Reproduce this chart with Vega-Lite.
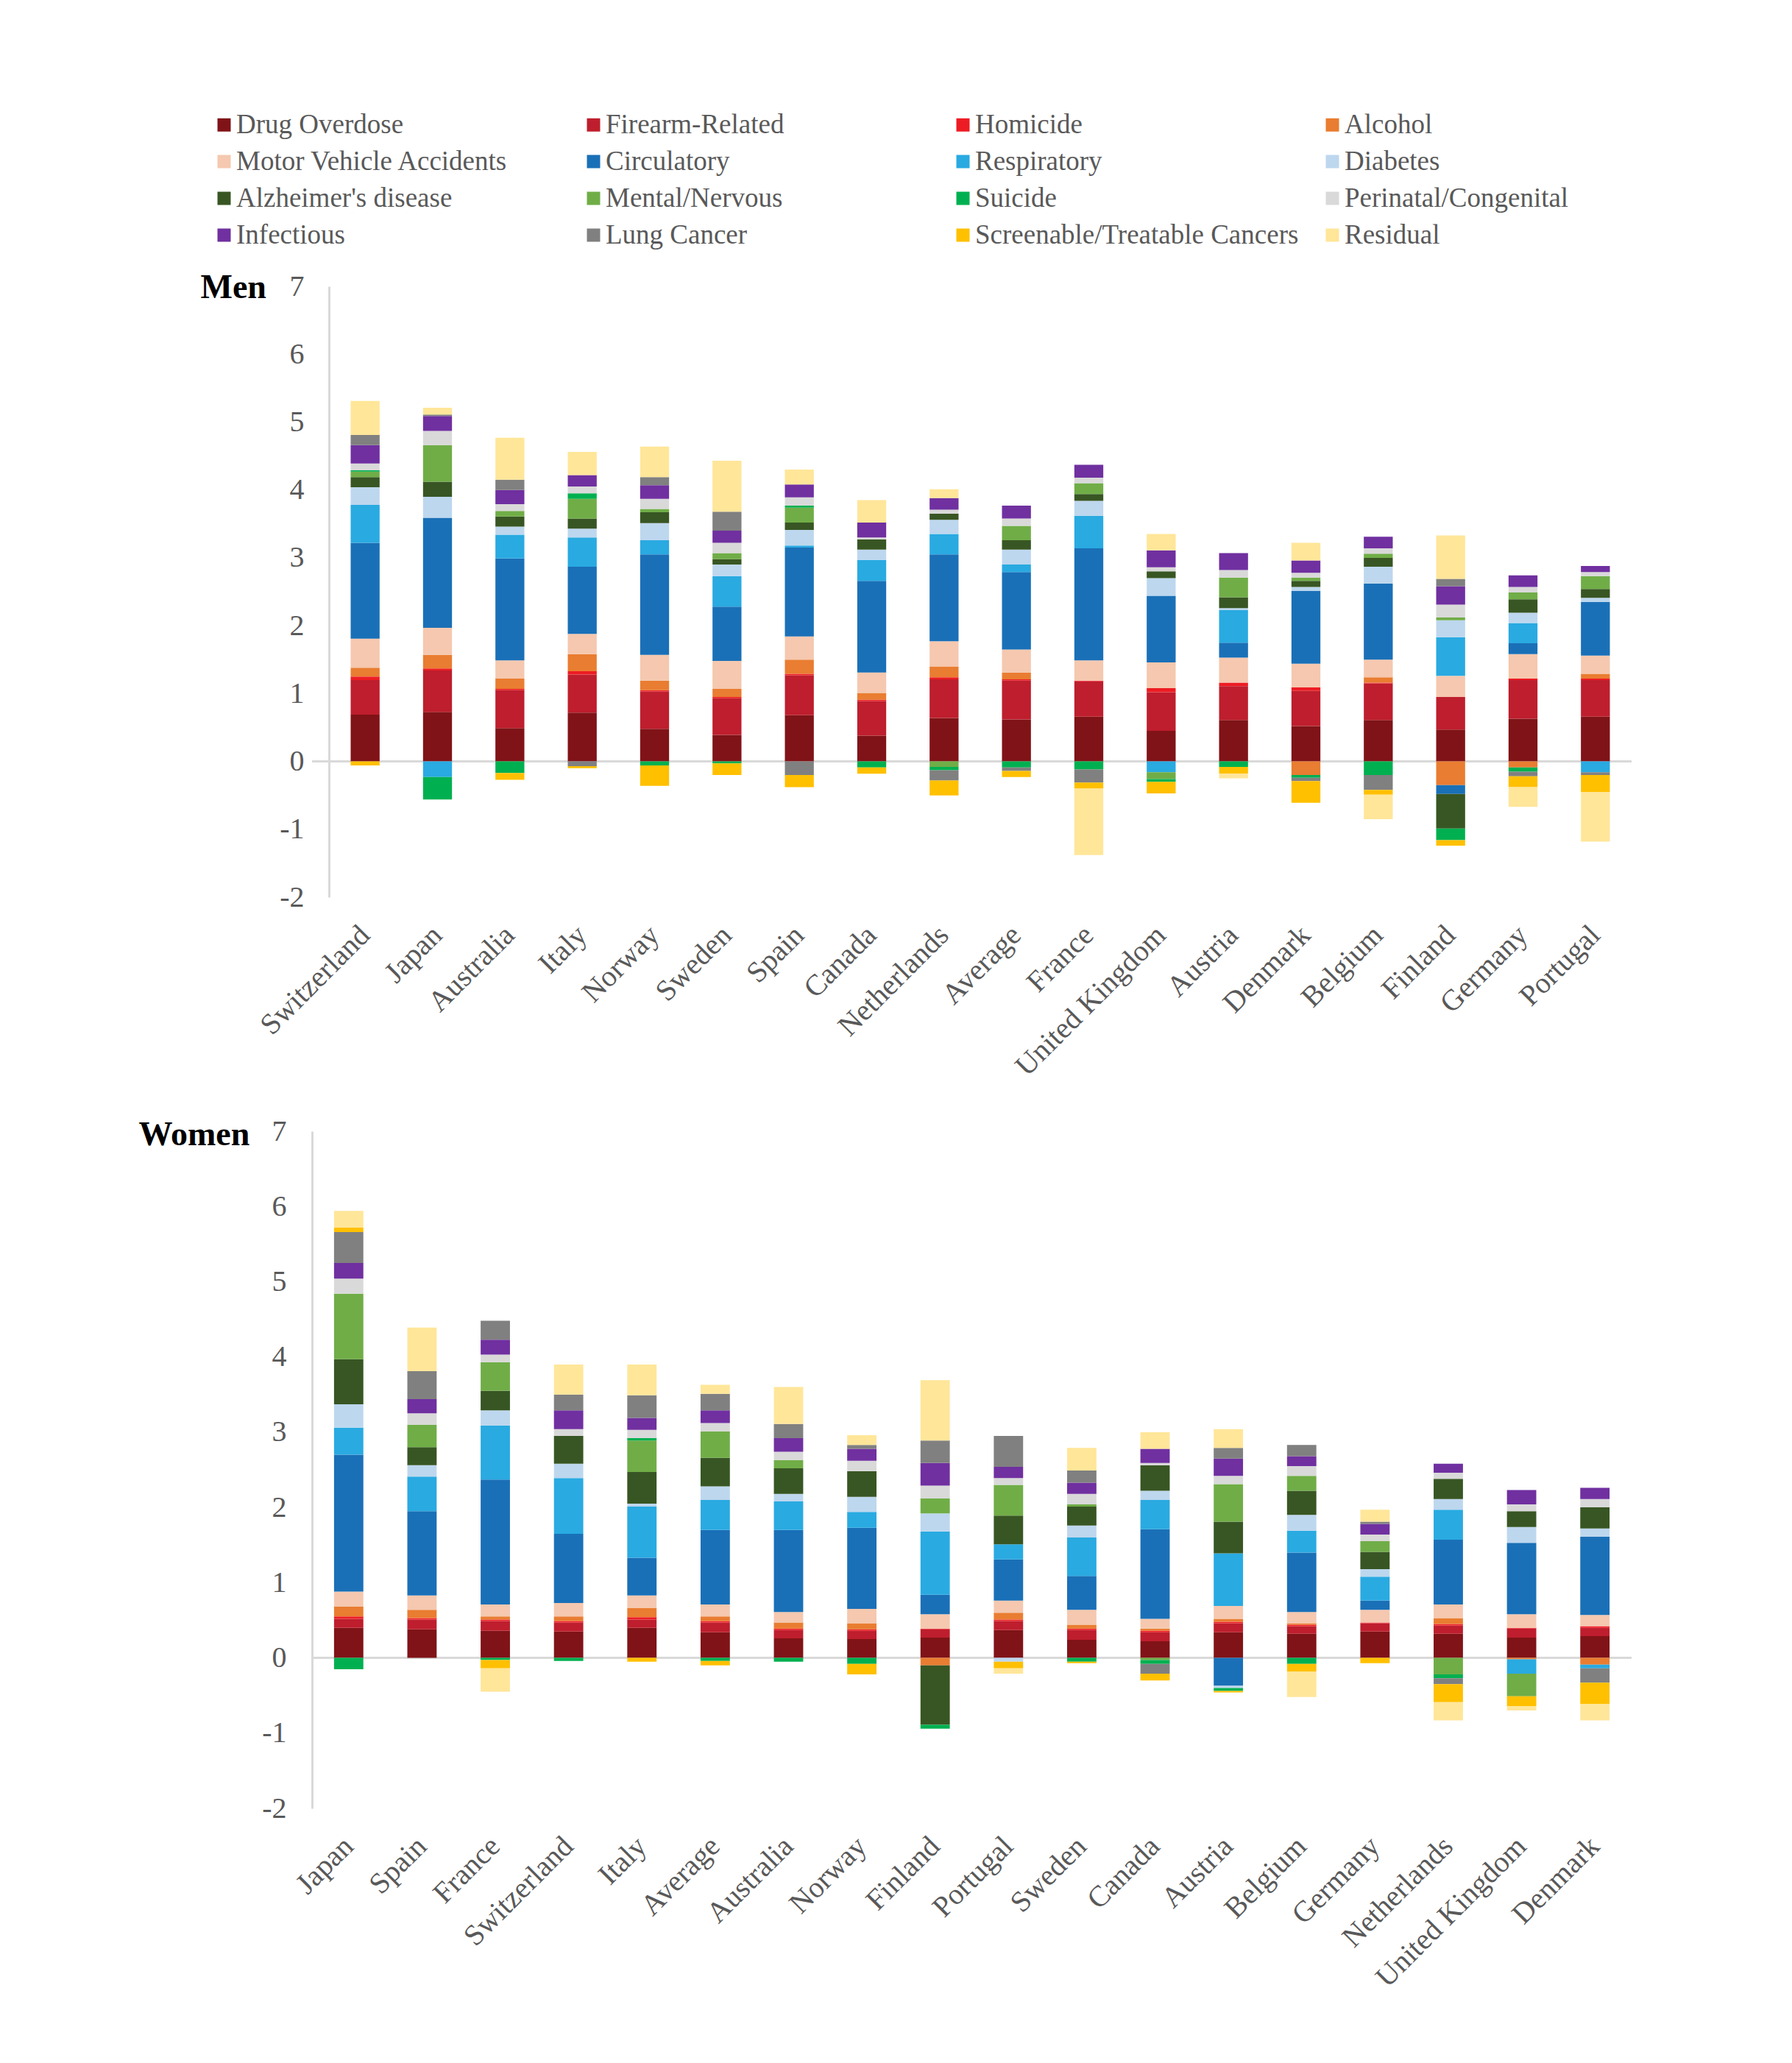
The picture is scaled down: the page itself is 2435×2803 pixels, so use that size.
{
"$schema": "https://vega.github.io/schema/vega-lite/v6.json",
"background": "white",
"padding": {"left": 188, "top": 151, "right": 10, "bottom": 10},
"spacing": 47,
"config": {
 "view": {"stroke": null},
 "font": "Liberation Serif",
 "axis": {"grid": false, "ticks": false, "tickSize": 0, "labelFont": "Liberation Serif", "labelFontSize": 40, "labelColor": "#595959", "titleFont": "Liberation Serif"},
 "legend": {"orient": "none", "legendX": -138, "legendY": -238, "direction": "horizontal", "columns": 4, "gridAlign": "all", "columnPadding": 27, "rowPadding": 12, "symbolType": "square", "symbolSize": 324, "symbolStrokeWidth": 0, "labelFont": "Liberation Serif", "labelFontSize": 37, "labelColor": "#595959", "labelOffset": -2, "labelLimit": 700, "padding": 0, "title": null}
},
"datasets": {
 "causes": [
  {"k":"D","o":1,"cause":"Drug Overdose"},{"k":"F","o":2,"cause":"Firearm-Related"},{"k":"H","o":3,"cause":"Homicide"},{"k":"A","o":4,"cause":"Alcohol"},
  {"k":"M","o":5,"cause":"Motor Vehicle Accidents"},{"k":"C","o":6,"cause":"Circulatory"},{"k":"R","o":7,"cause":"Respiratory"},{"k":"Db","o":8,"cause":"Diabetes"},
  {"k":"Az","o":9,"cause":"Alzheimer's disease"},{"k":"Mn","o":10,"cause":"Mental/Nervous"},{"k":"S","o":11,"cause":"Suicide"},{"k":"P","o":12,"cause":"Perinatal/Congenital"},
  {"k":"I","o":13,"cause":"Infectious"},{"k":"L","o":14,"cause":"Lung Cancer"},{"k":"Sc","o":15,"cause":"Screenable/Treatable Cancers"},{"k":"Re","o":16,"cause":"Residual"}
 ],
 "men": [
  {"c":"Switzerland","D":0.69,"F":0.51,"H":0.05,"A":0.13,"M":0.43,"C":1.41,"R":0.56,"Db":0.26,"Az":0.15,"Mn":0.08,"S":0.02,"P":0.10,"I":0.27,"L":0.15,"Sc":-0.06,"Re":0.50},
  {"c":"Japan","D":0.73,"F":0.61,"H":0.03,"A":0.20,"M":0.40,"C":1.62,"R":-0.23,"Db":0.31,"Az":0.22,"Mn":0.54,"S":-0.33,"P":0.21,"I":0.22,"L":0.02,"Re":0.10},
  {"c":"Australia","D":0.49,"F":0.56,"H":0.02,"A":0.15,"M":0.27,"C":1.50,"R":0.35,"Db":0.12,"Az":0.15,"Mn":0.08,"S":-0.17,"P":0.10,"I":0.21,"L":0.15,"Sc":-0.10,"Re":0.62},
  {"c":"Italy","D":0.72,"F":0.56,"H":0.05,"A":0.25,"M":0.30,"C":0.99,"R":0.43,"Db":0.13,"Az":0.15,"Mn":0.29,"S":0.08,"P":0.10,"I":0.17,"L":-0.07,"Sc":-0.03,"Re":0.34},
  {"c":"Norway","D":0.48,"F":0.55,"H":0.02,"A":0.14,"M":0.38,"C":1.48,"R":0.21,"Db":0.25,"Az":0.16,"Mn":0.05,"S":-0.06,"P":0.15,"I":0.20,"L":0.12,"Sc":-0.30,"Re":0.45},
  {"c":"Sweden","D":0.39,"F":0.54,"H":0.02,"A":0.12,"M":0.41,"C":0.80,"R":0.45,"Db":0.17,"Az":0.08,"Mn":0.09,"S":-0.03,"P":0.15,"I":0.18,"L":0.28,"Sc":-0.17,"Re":0.75},
  {"c":"Spain","D":0.68,"F":0.59,"H":0.02,"A":0.21,"M":0.34,"C":1.31,"R":0.03,"Db":0.23,"Az":0.11,"Mn":0.22,"S":0.03,"P":0.12,"I":0.19,"L":-0.20,"Sc":-0.18,"Re":0.22},
  {"c":"Canada","D":0.38,"F":0.51,"H":0.02,"A":0.10,"M":0.30,"C":1.35,"R":0.31,"Db":0.15,"Az":0.15,"S":-0.09,"P":0.03,"I":0.22,"Sc":-0.09,"Re":0.33},
  {"c":"Netherlands","D":0.64,"F":0.57,"H":0.03,"A":0.16,"M":0.37,"C":1.28,"R":0.30,"Db":0.21,"Az":0.09,"Mn":-0.08,"S":-0.05,"P":0.06,"I":0.17,"L":-0.15,"Sc":-0.22,"Re":0.13},
  {"c":"Average","D":0.62,"F":0.57,"H":0.02,"A":0.10,"M":0.34,"C":1.14,"R":0.11,"Db":0.22,"Az":0.14,"Mn":0.21,"S":-0.09,"P":0.11,"I":0.19,"L":-0.05,"Sc":-0.09},
  {"c":"France","D":0.66,"F":0.52,"H":0.01,"M":0.30,"C":1.65,"R":0.48,"Db":0.22,"Az":0.10,"Mn":0.16,"S":-0.12,"P":0.08,"I":0.19,"L":-0.19,"Sc":-0.09,"Re":-0.98},
  {"c":"United Kingdom","D":0.45,"F":0.57,"H":0.06,"M":0.38,"C":0.98,"R":-0.16,"Db":0.26,"Az":0.10,"Mn":-0.10,"S":-0.04,"P":0.06,"I":0.25,"Sc":-0.17,"Re":0.24},
  {"c":"Austria","D":0.61,"F":0.50,"H":0.05,"M":0.37,"C":0.22,"R":0.48,"Db":0.03,"Az":0.16,"Mn":0.29,"S":-0.08,"P":0.11,"I":0.25,"Sc":-0.10,"Re":-0.07},
  {"c":"Denmark","D":0.52,"F":0.52,"H":0.05,"A":-0.20,"M":0.35,"C":1.07,"Db":0.06,"Az":0.09,"Mn":0.05,"S":-0.04,"P":0.07,"I":0.18,"L":-0.05,"Sc":-0.32,"Re":0.26},
  {"c":"Belgium","D":0.61,"F":0.54,"H":0.01,"A":0.08,"M":0.26,"C":1.12,"Db":0.25,"Az":0.13,"Mn":0.06,"S":-0.20,"P":0.08,"I":0.17,"L":-0.22,"Sc":-0.07,"Re":-0.36},
  {"c":"Finland","D":0.47,"F":0.48,"A":-0.35,"M":0.31,"C":-0.13,"R":0.57,"Db":0.25,"Az":-0.51,"Mn":0.04,"S":-0.17,"P":0.19,"I":0.27,"L":0.11,"Sc":-0.08,"Re":0.64},
  {"c":"Germany","D":0.63,"F":0.57,"H":0.02,"A":-0.09,"M":0.36,"C":0.16,"R":0.30,"Db":0.15,"Az":0.20,"Mn":0.10,"S":-0.06,"P":0.08,"I":0.17,"L":-0.07,"Sc":-0.16,"Re":-0.29},
  {"c":"Portugal","D":0.66,"F":0.54,"H":0.02,"A":0.07,"M":0.27,"C":0.79,"R":-0.16,"Db":0.06,"Az":0.13,"Mn":0.19,"P":0.06,"I":0.09,"L":-0.04,"Sc":-0.25,"Re":-0.73}
 ],
 "women": [
  {"c":"Japan","D":0.40,"F":0.12,"H":0.03,"A":0.13,"M":0.20,"C":1.82,"R":0.36,"Db":0.31,"Az":0.60,"Mn":0.87,"S":-0.15,"P":0.20,"I":0.21,"L":0.41,"Sc":0.06,"Re":0.22},
  {"c":"Spain","D":0.38,"F":0.13,"H":0.02,"A":0.11,"M":0.19,"C":1.12,"R":0.46,"Db":0.15,"Az":0.24,"Mn":0.30,"P":0.15,"I":0.19,"L":0.37,"Re":0.58},
  {"c":"France","D":0.36,"F":0.13,"H":0.02,"A":0.04,"M":0.16,"C":1.66,"R":0.72,"Db":0.20,"Az":0.26,"Mn":0.38,"S":-0.03,"P":0.10,"I":0.20,"L":0.25,"Sc":-0.11,"Re":-0.31},
  {"c":"Switzerland","D":0.35,"F":0.12,"H":0.02,"A":0.06,"M":0.18,"C":0.92,"R":0.74,"Db":0.19,"Az":0.37,"S":-0.04,"P":0.09,"I":0.25,"L":0.21,"Re":0.40},
  {"c":"Italy","D":0.40,"F":0.11,"H":0.03,"A":0.12,"M":0.17,"C":0.50,"R":0.68,"Db":0.04,"Az":0.42,"Mn":0.42,"S":0.03,"P":0.11,"I":0.16,"L":0.30,"Sc":-0.05,"Re":0.41},
  {"c":"Average","D":0.34,"F":0.13,"H":0.02,"A":0.06,"M":0.16,"C":0.99,"R":0.40,"Db":0.18,"Az":0.38,"Mn":0.35,"S":-0.04,"P":0.11,"I":0.17,"L":0.22,"Sc":-0.06,"Re":0.12},
  {"c":"Australia","D":0.26,"F":0.11,"H":0.02,"A":0.08,"M":0.14,"C":1.09,"R":0.38,"Db":0.10,"Az":0.34,"Mn":0.11,"S":-0.05,"P":0.11,"I":0.18,"L":0.19,"Re":0.49},
  {"c":"Norway","D":0.25,"F":0.11,"H":0.02,"A":0.08,"M":0.19,"C":1.08,"R":0.21,"Db":0.20,"Az":0.34,"S":-0.08,"P":0.14,"I":0.16,"L":0.05,"Sc":-0.14,"Re":0.13},
  {"c":"Finland","D":0.27,"F":0.11,"H":0.01,"A":-0.10,"M":0.19,"C":0.26,"R":0.84,"Db":0.24,"Az":-0.79,"Mn":0.20,"S":-0.05,"P":0.17,"I":0.30,"L":0.30,"Re":0.80},
  {"c":"Portugal","D":0.37,"F":0.12,"H":0.02,"A":0.09,"M":0.16,"C":0.55,"R":0.20,"Db":-0.05,"Az":0.38,"Mn":0.41,"P":0.09,"I":0.15,"L":0.41,"Sc":-0.09,"Re":-0.07},
  {"c":"Sweden","D":0.24,"F":0.13,"H":0.02,"A":0.05,"M":0.20,"C":0.45,"R":0.51,"Db":0.16,"Az":0.25,"Mn":0.03,"S":-0.05,"P":0.14,"I":0.15,"L":0.16,"Sc":-0.02,"Re":0.30},
  {"c":"Canada","D":0.22,"F":0.12,"H":0.02,"A":0.03,"M":0.13,"C":1.19,"R":0.39,"Db":0.12,"Az":0.34,"Mn":-0.03,"S":-0.05,"P":0.03,"I":0.19,"L":-0.13,"Sc":-0.09,"Re":0.22},
  {"c":"Austria","D":0.34,"F":0.12,"H":0.02,"A":0.04,"M":0.17,"C":-0.37,"R":0.70,"Db":-0.03,"Az":0.42,"Mn":0.50,"S":-0.04,"P":0.11,"I":0.23,"L":0.14,"Sc":-0.02,"Re":0.25},
  {"c":"Belgium","D":0.32,"F":0.10,"H":0.02,"A":0.02,"M":0.15,"C":0.79,"R":0.29,"Db":0.21,"Az":0.32,"Mn":0.20,"S":-0.08,"P":0.13,"I":0.13,"L":0.15,"Sc":-0.10,"Re":-0.34},
  {"c":"Germany","D":0.35,"F":0.11,"H":0.01,"M":0.17,"C":0.12,"R":0.32,"Db":0.10,"Az":0.23,"Mn":0.14,"P":0.09,"I":0.14,"L":0.03,"Sc":-0.07,"Re":0.16},
  {"c":"Netherlands","D":0.32,"F":0.11,"H":0.02,"A":0.08,"M":0.18,"C":0.86,"R":0.40,"Db":0.14,"Az":0.27,"Mn":-0.22,"S":-0.05,"P":0.08,"I":0.12,"L":-0.08,"Sc":-0.24,"Re":-0.24},
  {"c":"United Kingdom","D":0.27,"F":0.12,"H":0.01,"A":-0.02,"M":0.18,"C":0.95,"R":-0.19,"Db":0.21,"Az":0.21,"Mn":-0.30,"P":0.09,"I":0.19,"Sc":-0.13,"Re":-0.06},
  {"c":"Denmark","D":0.29,"F":0.11,"H":0.02,"A":-0.09,"M":0.15,"C":1.04,"R":-0.05,"Db":0.11,"Az":0.28,"P":0.11,"I":0.15,"L":-0.19,"Sc":-0.28,"Re":-0.22}
 ]
},
"vconcat": [
 {
  "width": 1793, "height": 830,
  "layer": [
   {"data": {"values": [{}]}, "mark": {"type": "rule", "color": "#D9D9D9", "strokeWidth": 3}, "encoding": {"y": {"datum": 0, "type": "quantitative"}}},
   {
    "data": {"name": "men"},
    "transform": [
     {"fold": ["D","F","H","A","M","C","R","Db","Az","Mn","S","P","I","L","Sc","Re"], "as": ["k","v"]},
     {"filter": "isValid(datum.v)"},
     {"lookup": "k", "from": {"data": {"name": "causes"}, "key": "k", "fields": ["cause","o"]}}
    ],
    "mark": {"type": "bar"},
    "encoding": {
     "x": {"field": "c", "type": "nominal", "sort": null, "scale": {"range": [23, 1793], "paddingInner": 0.6, "paddingOuter": 0.3},
       "axis": {"title": null, "domain": false, "labelAngle": -45, "labelAlign": "right", "labelBaseline": "middle", "labelPadding": 45, "labelLimit": 500, "labelOverlap": false}},
     "y": {"field": "v", "type": "quantitative", "stack": "zero", "scale": {"domain": [-2, 7], "nice": false, "zero": false},
       "axis": {"offset": -23, "values": [-2,-1,0,1,2,3,4,5,6,7], "labelExpr": "datum.value + ''", "domain": true, "domainColor": "#D9D9D9", "domainWidth": 3, "labelPadding": 34,
         "title": "Men", "titleAngle": 0, "titleAlign": "left", "titleBaseline": "alphabetic", "titleX": -175, "titleY": 15, "titleFontSize": 46, "titleFontWeight": "bold", "titleColor": "#000000"}},
     "order": {"field": "o", "type": "quantitative"},
     "color": {"field": "cause", "type": "nominal",
       "scale": {"domain": ["Drug Overdose","Firearm-Related","Homicide","Alcohol","Motor Vehicle Accidents","Circulatory","Respiratory","Diabetes","Alzheimer's disease","Mental/Nervous","Suicide","Perinatal/Congenital","Infectious","Lung Cancer","Screenable/Treatable Cancers","Residual"],
         "range": ["#801317","#BE1E2D","#ED1C24","#E97D31","#F5C8AF","#1A70B7","#29AAE1","#BDD7EE","#385623","#70AD47","#00B050","#D9D9D9","#7030A0","#808080","#FFC000","#FFE699"]}}
    }
   }
  ]
 },
 {
  "width": 1793, "height": 920,
  "layer": [
   {"data": {"values": [{}]}, "mark": {"type": "rule", "color": "#D9D9D9", "strokeWidth": 3}, "encoding": {"y": {"datum": 0, "type": "quantitative"}}},
   {
    "data": {"name": "women"},
    "transform": [
     {"fold": ["D","F","H","A","M","C","R","Db","Az","Mn","S","P","I","L","Sc","Re"], "as": ["k","v"]},
     {"filter": "isValid(datum.v)"},
     {"lookup": "k", "from": {"data": {"name": "causes"}, "key": "k", "fields": ["cause","o"]}}
    ],
    "mark": {"type": "bar"},
    "encoding": {
     "x": {"field": "c", "type": "nominal", "sort": null, "scale": {"paddingInner": 0.6, "paddingOuter": 0.3},
       "axis": {"title": null, "domain": false, "labelAngle": -45, "labelAlign": "right", "labelBaseline": "middle", "labelPadding": 45, "labelLimit": 500, "labelOverlap": false}},
     "y": {"field": "v", "type": "quantitative", "stack": "zero", "scale": {"domain": [-2, 7], "nice": false, "zero": false},
       "axis": {"values": [-2,-1,0,1,2,3,4,5,6,7], "labelExpr": "datum.value + ''", "domain": true, "domainColor": "#D9D9D9", "domainWidth": 3, "labelPadding": 35,
         "title": "Women", "titleAngle": 0, "titleAlign": "left", "titleBaseline": "alphabetic", "titleX": -236, "titleY": 18, "titleFontSize": 46, "titleFontWeight": "bold", "titleColor": "#000000"}},
     "order": {"field": "o", "type": "quantitative"},
     "color": {"field": "cause", "type": "nominal",
       "scale": {"domain": ["Drug Overdose","Firearm-Related","Homicide","Alcohol","Motor Vehicle Accidents","Circulatory","Respiratory","Diabetes","Alzheimer's disease","Mental/Nervous","Suicide","Perinatal/Congenital","Infectious","Lung Cancer","Screenable/Treatable Cancers","Residual"],
         "range": ["#801317","#BE1E2D","#ED1C24","#E97D31","#F5C8AF","#1A70B7","#29AAE1","#BDD7EE","#385623","#70AD47","#00B050","#D9D9D9","#7030A0","#808080","#FFC000","#FFE699"]}}
    }
   }
  ]
 }
]
}
